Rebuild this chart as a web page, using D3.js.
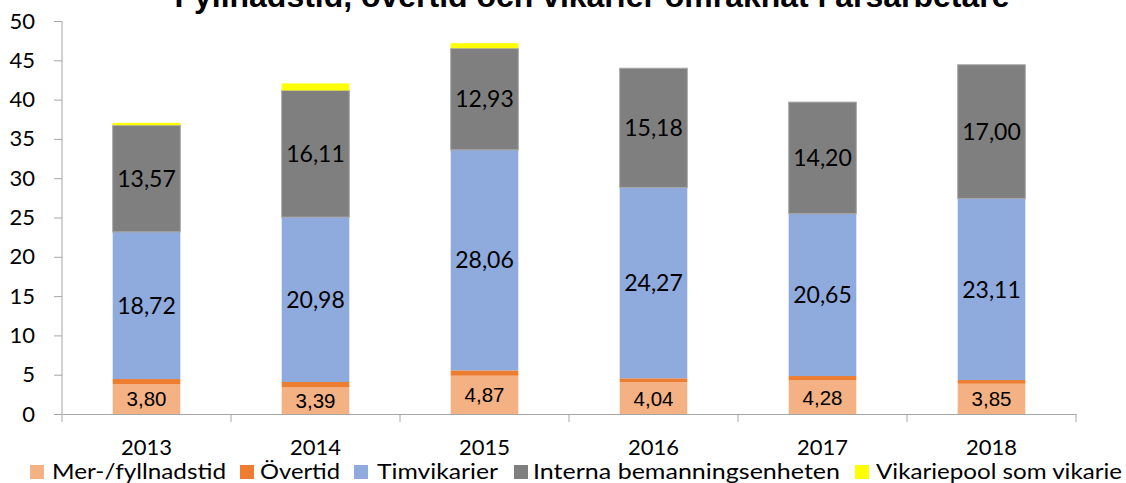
<!DOCTYPE html>
<html><head><meta charset="utf-8">
<script src="https://cdn.jsdelivr.net/npm/d3@7"></script>
<style>body{margin:0;background:#fff}svg{display:block}</style>
</head><body>
<script>
const years = ["2013","2014","2015","2016","2017","2018"];
const serieNames = ["Mer-/fyllnadstid","Övertid","Timvikarier","Interna bemanningsenheten","Vikariepool som vikarie"];
const merFyllnadstid = [3.80,3.39,4.87,4.04,4.28,3.85];
const overtid = [0.65,0.68,0.68,0.50,0.55,0.47];
const timvikarier = [18.72,20.98,28.06,24.27,20.65,23.11];
const interna = [13.57,16.11,12.93,15.18,14.20,17.00];
const vikariepool = [0.30,0.90,0.64,0,0,0];
const yTicks = [0,5,10,15,20,25,30,35,40,45,50];
const title = "Fyllnadstid, övertid och vikarier omräknat i årsarbetare";

const colors = ["#F4B183","#ED7D31","#8FAADC","#7F7F7F","#FFFF00"];
const seriesValues = [merFyllnadstid, overtid, timvikarier, interna, vikariepool];
const labelled = [true,false,true,true,false];

const W=1126,H=483;
const svg=d3.select("body").append("svg").attr("width",W).attr("height",H);
const x=d3.scaleBand().domain(years).range([62,1076]).padding(0);
const y=d3.scaleLinear().domain([0,50]).range([414,21]);

const rows=years.map((yr,i)=>{const o={year:yr};serieNames.forEach((s,j)=>o[s]=seriesValues[j][i]);return o;});
const stacked=d3.stack().keys(serieNames)(rows);

const bw=x.bandwidth()*0.4;
const g=svg.append("g");
stacked.forEach((layer,j)=>{
  g.selectAll(null).data(layer).join("rect")
   .attr("x",d=>x(d.data.year)+(x.bandwidth()-bw)/2)
   .attr("width",bw)
   .attr("y",d=>y(d[1]))
   .attr("height",d=>Math.max(0,y(d[0])-y(d[1])))
   .attr("fill",colors[j])
   .attr("stroke",j===3?"#A6A6A6":"none").attr("stroke-width",j===3?1:0);
});
// labels
stacked.forEach((layer,j)=>{
  if(!labelled[j])return;
  g.selectAll(null).data(layer).join("text")
   .attr("x",d=>x(d.data.year)+x.bandwidth()/2)
   .attr("y",d=>y((d[0]+d[1])/2))
   .attr("dy","0.36em")
   .attr("text-anchor","middle")
   .attr("font-family",j===0?"Liberation Sans, Arial, sans-serif":"Lato, sans-serif")
   .attr("font-size",j===0?20.5:23)
   .attr("fill","#000")
   .text(d=>(d[1]-d[0]).toFixed(2).replace(".",","));
});

// y axis
const ya=svg.append("g").attr("transform","translate(62,0)")
 .call(d3.axisLeft(y).tickValues(yTicks).tickSize(8).tickPadding(19).tickFormat(d=>d));
ya.select(".domain").attr("stroke","#A6A6A6").attr("d","M0,21.5V414");
ya.selectAll(".tick line").attr("stroke","#A6A6A6");
ya.selectAll(".tick text").attr("font-family","Lato, sans-serif").attr("font-size",22).attr("fill","#000");

// x axis
const xa=svg.append("g").attr("transform","translate(0,414)")
 .call(d3.axisBottom(x).tickSize(0).tickPadding(25));
xa.select(".domain").attr("stroke","#A6A6A6");
xa.selectAll(".tick text").attr("font-family","Lato, sans-serif").attr("font-size",22).attr("fill","#000");
xa.selectAll(null).data(d3.range(years.length+1)).join("line")
 .attr("x1",i=>62+i*x.step()).attr("x2",i=>62+i*x.step()).attr("y1",0).attr("y2",8)
 .attr("stroke","#A6A6A6");

// title
svg.append("text").attr("x",592).attr("y",7).attr("text-anchor","middle")
 .attr("font-family","Liberation Sans, Arial, sans-serif").attr("font-weight","bold").attr("font-size",31)
 .attr("textLength",835).attr("lengthAdjust","spacingAndGlyphs")
 .text(title);

// legend
const legSwatch=[30,240,354,514,855];
const legText=[52,260,377,533,876];
const legLen=[174,80,121,307,246];
const lg=svg.append("g");
serieNames.forEach((s,j)=>{
  lg.append("rect").attr("x",legSwatch[j]).attr("y",465).attr("width",14).attr("height",14).attr("fill",colors[j]);
  lg.append("text").attr("x",legText[j]).attr("y",479).attr("font-family","Lato, sans-serif").attr("font-size",22)
    .attr("textLength",legLen[j]).attr("lengthAdjust","spacingAndGlyphs").text(s);
});
</script>
</body></html>
